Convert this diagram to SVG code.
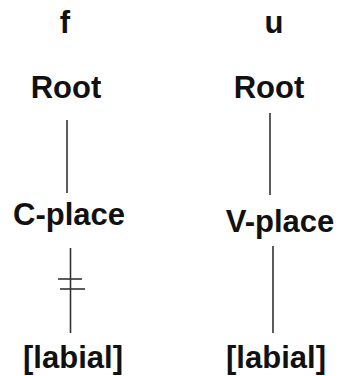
<svg xmlns="http://www.w3.org/2000/svg" width="340" height="376" viewBox="0 0 340 376">
<style>
text{font-family:"Liberation Sans",Arial,sans-serif;font-weight:bold;font-size:31px;fill:#111;text-anchor:middle}
.c line{stroke:#333;stroke-width:1.6}
</style>
<rect width="340" height="376" fill="#fff"/>
<g id="f"><text x="65" y="33">f</text></g>
<g id="u"><text x="274" y="33">u</text></g>
<g id="root-f"><text x="66" y="98" font-size="32">Root</text></g>
<g id="root-u"><text x="269" y="98" font-size="32">Root</text></g>
<g id="cplace"><text x="69" y="225">C-place</text></g>
<g id="vplace"><text x="280" y="232">V-place</text></g>
<g id="labial-f"><text x="73" y="368">[labial]</text></g>
<g id="labial-u"><text x="276" y="368">[labial]</text></g>
<g id="connectors" class="c">
<line x1="67" y1="120" x2="67" y2="193"/>
<line x1="70.5" y1="248" x2="70.5" y2="333"/>
<line x1="58" y1="279" x2="82" y2="279"/>
<line x1="60" y1="289" x2="85" y2="289"/>
<line x1="270" y1="113" x2="270" y2="195"/>
<line x1="273" y1="246" x2="273" y2="333"/>
</g>
</svg>
